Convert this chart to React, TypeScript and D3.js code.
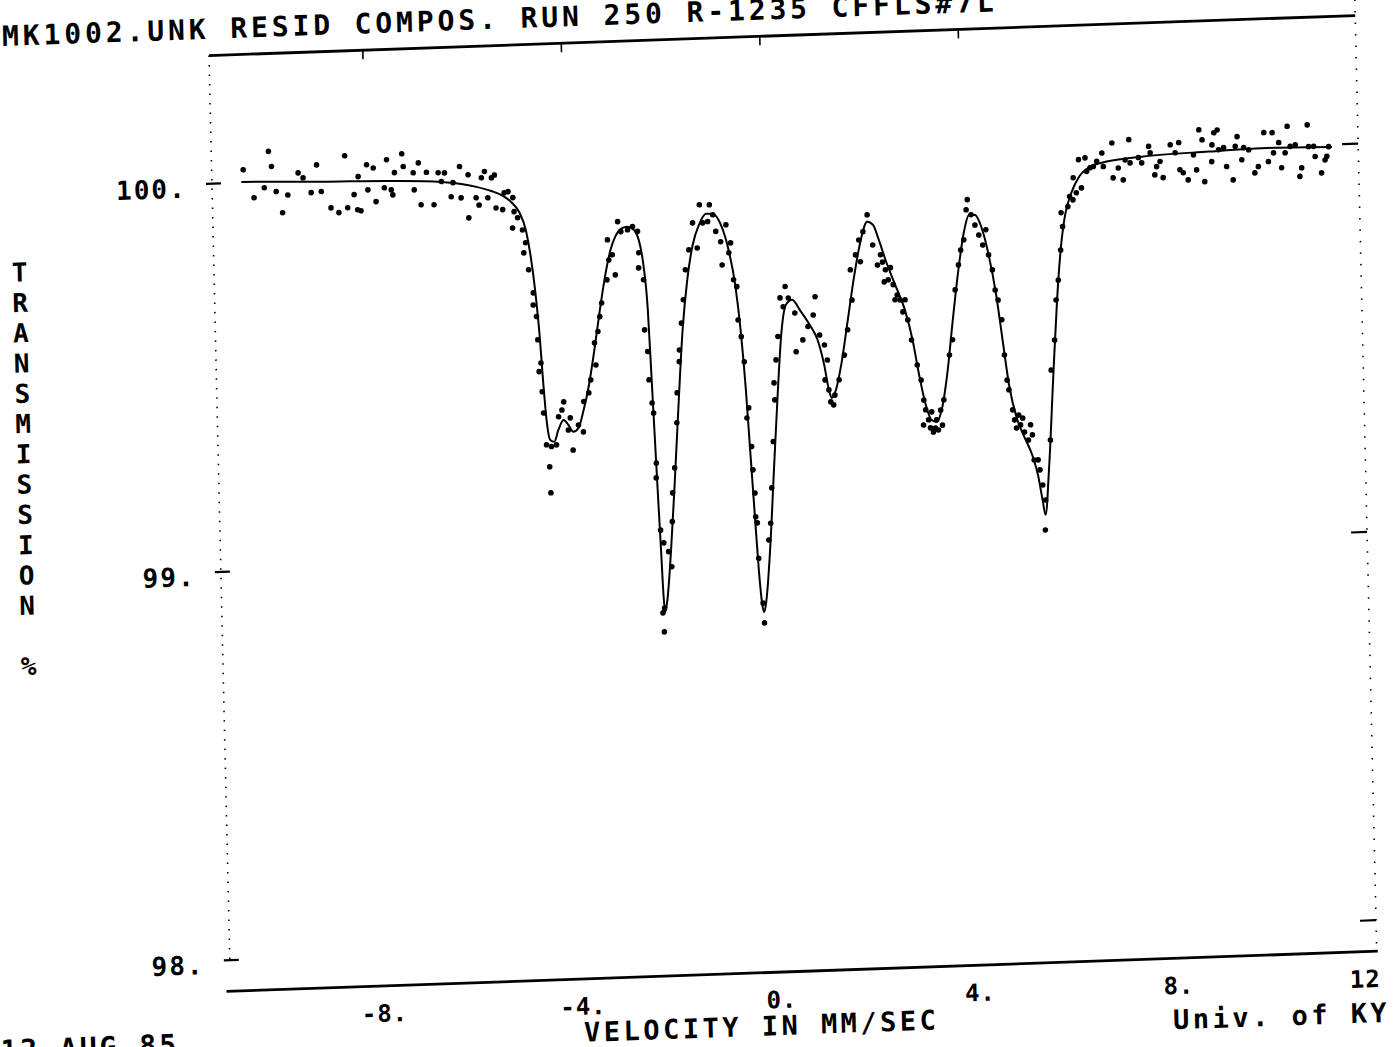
import React from "react";
import * as d3 from "d3";

// ---------- text content ----------
const title = "MK1002.UNK RESID COMPOS. RUN 250 R-1235  CFFLS#7L";
const xAxisTitle = "VELOCITY IN MM/SEC";
const yAxisTitle = "TRANSMISSION %";
const credit = "Univ. of KY";
const dateStamp = "12 AUG 85";

// ---------- axes ----------
const xTickValues = [-8, -4, 0, 4, 8, 12];
const xTickLabels = ["-8.", "-4.", "0.", "4.", "8.", "12"];
const topTickValues = [-8, -4, 0, 4];
const yTickValues = [100, 99, 98];
const yTickLabels = ["100.", "99.", "98."];

// ---------- data: [velocity mm/s, transmission %] ----------
const leftWing: [number, number][] = [
  [-10.465, 100.033], [-10.258, 99.96], [-10.048, 99.985], [-9.948, 100.078], [-9.893, 100.039],
  [-9.809, 99.974], [-9.69, 99.919], [-9.577, 99.964], [-9.36, 100.02], [-9.263, 100.007],
  [-9.106, 99.968], [-8.985, 100.039], [-8.902, 99.97], [-8.713, 99.927], [-8.556, 99.914],
  [-8.415, 100.06], [-8.377, 99.926], [-8.242, 99.959], [-8.177, 99.92], [-8.153, 100.005],
  [-8.111, 99.917], [-7.978, 100.035], [-7.962, 99.97], [-7.845, 100.026], [-7.803, 99.939],
  [-7.631, 99.974], [-7.573, 100.046], [-7.492, 99.968], [-7.462, 99.955], [-7.42, 100.012],
  [-7.265, 100.06], [-7.241, 100.027], [-7.043, 100.01], [-7.029, 99.966], [-6.935, 100.035],
  [-6.898, 99.927], [-6.775, 100.01], [-6.637, 99.926], [-6.54, 100.008], [-6.479, 99.985],
  [-6.413, 100.007], [-6.288, 99.945], [-6.246, 99.981], [-6.107, 100.022], [-6.089, 99.941],
  [-5.938, 100.0], [-5.942, 99.889], [-5.787, 99.94], [-5.73, 99.921], [-5.672, 99.991],
  [-5.607, 100.007], [-5.551, 99.939], [-5.47, 99.99], [-5.408, 99.997], [-5.39, 99.912],
  [-5.257, 99.907], [-5.219, 99.95], [-5.142, 99.953], [-5.047, 99.937], [-5.029, 99.901],
  [-5.067, 99.859], [-4.961, 99.885], [-4.868, 99.853], [-4.812, 99.82],
];

const lowVelocityLines: [number, number][] = [
  [-4.852, 99.794], [-4.763, 99.75], [-4.679, 99.69], [-4.687, 99.659], [-4.626, 99.629],
  [-4.61, 99.569], [-4.598, 99.487], [-4.558, 99.509], [-4.546, 99.435], [-4.528, 99.38],
  [-4.483, 99.298], [-4.429, 99.241], [-4.383, 99.293], [-4.417, 99.174], [-4.282, 99.297],
  [-4.228, 99.369], [-4.157, 99.386], [-4.117, 99.407], [-4.036, 99.334], [-3.992, 99.365],
  [-3.95, 99.282], [-3.831, 99.346], [-3.734, 99.328], [-3.714, 99.406], [-3.607, 99.428],
  [-3.563, 99.461], [-3.47, 99.556], [-3.452, 99.499], [-3.396, 99.585], [-3.351, 99.623],
  [-3.307, 99.658], [-3.19, 99.717], [-3.162, 99.82], [-3.144, 99.768], [-3.071, 99.781],
  [-3.019, 99.729], [-2.949, 99.866], [-2.888, 99.84], [-2.753, 99.844], [-2.651, 99.852],
  [-2.552, 99.839], [-2.536, 99.784], [-2.546, 99.745], [-2.453, 99.714], [-2.455, 99.585],
  [-2.403, 99.529], [-2.389, 99.456], [-2.338, 99.396], [-2.312, 99.37], [-2.28, 99.241],
  [-2.29, 99.203], [-2.226, 99.068], [-2.167, 99.035], [-2.073, 99.012], [-2.016, 98.973],
  [-2.181, 98.867], [-2.216, 98.855], [-2.197, 98.806], [-1.986, 99.089], [-1.966, 99.163],
  [-1.913, 99.227], [-1.849, 99.343], [-1.829, 99.42], [-1.772, 99.5], [-1.764, 99.53],
  [-1.71, 99.599], [-1.662, 99.659], [-1.607, 99.736], [-1.527, 99.787], [-1.44, 99.856],
  [-1.358, 99.791], [-1.295, 99.902], [-1.239, 99.855], [-1.136, 99.858], [-1.094, 99.901],
  [-1.031, 99.875], [-0.977, 99.832], [-0.882, 99.805], [-0.864, 99.745], [-0.769, 99.848],
  [-0.723, 99.776], [-0.683, 99.801], [-0.64, 99.706], [-0.578, 99.688], [-0.568, 99.602],
  [-0.512, 99.559], [-0.463, 99.494], [-0.435, 99.349], [-0.395, 99.375], [-0.354, 99.275],
  [-0.338, 99.215], [-0.308, 99.155], [-0.304, 99.094], [-0.274, 99.078], [-0.264, 98.987],
  [-0.195, 98.871], [-0.177, 98.82], [-0.05, 99.033], [-0.006, 99.076], [0.032, 99.167],
  [0.085, 99.286], [0.135, 99.393], [0.127, 99.437], [0.177, 99.496], [0.226, 99.556],
  [0.286, 99.655], [0.395, 99.684], [0.346, 99.632], [0.453, 99.654], [0.578, 99.615],
  [0.586, 99.515], [0.727, 99.545], [0.836, 99.579], [0.947, 99.608], [0.993, 99.655],
];

const highVelocityLines: [number, number][] = [
  [1.067, 99.556], [1.16, 99.53], [1.21, 99.491], [1.229, 99.414], [1.261, 99.383],
  [1.156, 99.44], [1.319, 99.375], [1.347, 99.4], [1.438, 99.439], [1.557, 99.502],
  [1.633, 99.567], [1.716, 99.721], [1.736, 99.643], [1.827, 99.759], [1.899, 99.797],
  [1.923, 99.741], [1.986, 99.818], [2.079, 99.861], [2.177, 99.783], [2.264, 99.731],
  [2.33, 99.757], [2.367, 99.738], [2.393, 99.687], [2.421, 99.718], [2.475, 99.692],
  [2.524, 99.723], [2.572, 99.679], [2.602, 99.64], [2.647, 99.652], [2.703, 99.639],
  [2.755, 99.608], [2.804, 99.639], [2.85, 99.587], [2.916, 99.535], [3.019, 99.47],
  [3.09, 99.431], [3.118, 99.315], [3.136, 99.379], [3.168, 99.354], [3.223, 99.328],
  [3.257, 99.307], [3.289, 99.348], [3.315, 99.296], [3.357, 99.306], [3.384, 99.327],
  [3.416, 99.301], [3.47, 99.352], [3.5, 99.313], [3.539, 99.378], [3.672, 99.493],
  [3.742, 99.532], [3.817, 99.66], [3.895, 99.724], [3.946, 99.762], [4.014, 99.788],
  [4.075, 99.865], [4.103, 99.891], [4.171, 99.852], [4.246, 99.825], [4.318, 99.799],
  [4.393, 99.773], [4.463, 99.812], [4.506, 99.747], [4.576, 99.708], [4.622, 99.656],
  [4.677, 99.63], [4.743, 99.579], [4.779, 99.488], [4.822, 99.423], [4.854, 99.398],
  [4.92, 99.346], [4.955, 99.32], [4.989, 99.299], [5.039, 99.332], [5.072, 99.307],
  [5.118, 99.324], [5.148, 99.288], [5.223, 99.267], [5.273, 99.306], [5.307, 99.28],
  [5.329, 99.215], [5.41, 99.215], [5.442, 99.189], [5.492, 99.15], [5.543, 99.111],
  [5.523, 99.034], [5.666, 99.265], [5.714, 99.445], [5.797, 99.522], [5.845, 99.625],
  [5.899, 99.676], [5.96, 99.753],
];

const rightWing: [number, number][] = [
  [5.986, 99.849], [6.01, 99.813], [6.125, 99.864], [6.165, 99.89], [6.232, 99.881],
  [6.246, 99.938], [6.302, 99.899], [6.361, 99.984], [6.407, 99.911], [6.493, 99.988],
  [6.52, 99.953], [6.588, 99.962], [6.657, 99.965], [6.727, 99.978], [6.834, 99.999],
  [6.858, 99.964], [7.041, 100.024], [7.051, 99.934], [7.158, 99.959], [7.253, 99.928],
  [7.299, 99.979], [7.382, 100.031], [7.398, 99.971], [7.569, 99.984], [7.633, 99.97],
  [7.779, 100.012], [7.807, 99.995], [7.891, 99.938], [7.931, 99.959], [8.002, 99.972],
  [8.058, 99.93], [8.215, 100.014], [8.31, 99.993], [8.387, 100.019], [8.399, 99.949],
  [8.465, 99.941], [8.562, 99.922], [8.679, 99.986], [8.735, 99.947], [8.798, 100.05],
  [8.858, 100.024], [8.894, 99.916], [9.043, 99.967], [9.055, 100.01], [9.098, 100.041],
  [9.166, 100.048], [9.186, 99.997], [9.289, 100.002], [9.341, 99.953], [9.468, 99.918],
  [9.523, 100.004], [9.565, 100.029], [9.65, 99.969], [9.692, 100.0], [9.793, 99.994],
  [9.907, 99.934], [9.98, 99.95], [10.105, 100.037], [10.185, 99.962], [10.272, 100.036],
  [10.292, 99.984], [10.401, 100.01], [10.449, 99.945], [10.526, 99.983], [10.578, 100.051],
  [10.63, 99.999], [10.733, 100.003], [10.812, 99.921], [10.852, 99.943], [10.983, 100.053],
  [11.001, 99.997], [11.102, 99.997], [11.128, 99.971], [11.251, 99.928], [11.327, 99.961],
  [11.364, 99.97], [11.404, 99.995],
];

const fitCurve: [number, number][] = [
  [-10.508, 100.002], [-8.896, 99.995], [-7.486, 99.991], [-6.479, 99.984], [-6.079, 99.977],
  [-5.778, 99.968], [-5.478, 99.956], [-5.281, 99.945], [-5.084, 99.926], [-4.93, 99.9],
  [-4.802, 99.853], [-4.719, 99.788], [-4.642, 99.698], [-4.572, 99.581], [-4.524, 99.465],
  [-4.471, 99.362], [-4.405, 99.31], [-4.326, 99.305], [-4.238, 99.335], [-4.129, 99.36],
  [-4.032, 99.347], [-3.936, 99.329], [-3.833, 99.338], [-3.72, 99.384], [-3.601, 99.448],
  [-3.476, 99.538], [-3.347, 99.64], [-3.221, 99.73], [-3.104, 99.794], [-2.993, 99.83],
  [-2.888, 99.847], [-2.765, 99.852], [-2.647, 99.846], [-2.532, 99.817], [-2.449, 99.752],
  [-2.381, 99.636], [-2.342, 99.481], [-2.304, 99.326], [-2.266, 99.172], [-2.226, 99.017],
  [-2.197, 98.901], [-2.169, 98.857], [-2.121, 98.888], [-2.024, 99.016], [-1.915, 99.196],
  [-1.799, 99.402], [-1.69, 99.581], [-1.573, 99.71], [-1.448, 99.799], [-1.313, 99.85],
  [-1.164, 99.878], [-1.023, 99.877], [-0.87, 99.848], [-0.727, 99.783], [-0.61, 99.693],
  [-0.522, 99.576], [-0.443, 99.421], [-0.385, 99.266], [-0.326, 99.111], [-0.266, 98.957],
  [-0.211, 98.866], [-0.175, 98.848], [-0.127, 98.878], [-0.03, 99.007], [0.085, 99.213],
  [0.201, 99.418], [0.304, 99.572], [0.403, 99.637], [0.528, 99.649], [0.681, 99.622],
  [0.872, 99.583], [1.023, 99.544], [1.146, 99.478], [1.229, 99.414], [1.283, 99.393],
  [1.37, 99.413], [1.488, 99.477], [1.641, 99.592], [1.795, 99.708], [1.94, 99.797],
  [2.075, 99.843], [2.191, 99.835], [2.302, 99.796], [2.429, 99.743], [2.612, 99.678],
  [2.796, 99.613], [2.937, 99.535], [3.053, 99.444], [3.172, 99.367], [3.283, 99.327],
  [3.382, 99.322], [3.49, 99.352], [3.617, 99.442], [3.756, 99.583], [3.891, 99.711],
  [4.02, 99.808], [4.133, 99.852], [4.254, 99.851], [4.367, 99.822], [4.508, 99.747],
  [4.641, 99.643], [4.749, 99.527], [4.858, 99.411], [4.997, 99.325], [5.144, 99.275],
  [5.293, 99.228], [5.4, 99.176], [5.482, 99.111], [5.533, 99.073], [5.623, 99.188],
  [5.748, 99.419], [5.865, 99.625], [5.96, 99.753], [6.066, 99.843], [6.201, 99.899],
  [6.375, 99.942], [6.582, 99.964], [6.828, 99.974], [7.637, 99.986], [8.989, 99.993],
  [10.322, 99.997], [11.47, 99.994],
];

// ---------- layout ----------
const W = 1400;
const H = 1047;
const FONT = "'DejaVu Sans Mono', 'Liberation Mono', monospace";
// the scanned plot is slightly skewed on the page
const SKEW = "matrix(0.99939,-0.0349,0.023,0.99939,-14.1,27.54)";

export default function App() {
  const x = d3.scaleLinear().domain([-11.1, 12]).range([222.4, 1369.3]);
  const y = d3.scaleLinear().domain([97.92, 100.33]).range([972.1, 35.8]);
  const allPoints = [...leftWing, ...lowVelocityLines, ...highVelocityLines, ...rightWing];
  const line = d3
    .line<[number, number]>()
    .x((d) => x(d[0]))
    .y((d) => y(d[1]))
    .curve(d3.curveMonotoneX);
  const [x0, x1] = x.range();
  const yTop = y(100.33);
  const yBot = y(97.92);
  const letters = yAxisTitle.split("");

  return (
    <div>
      <style>{`body{margin:0;background:#fff}`}</style>
      <svg width={W} height={H} style={{ display: "block", background: "#fff" }}>
        <g transform={SKEW} fill="#000" fontFamily={FONT} fontWeight="bold">
          {/* title */}
          <text x={16} y={19} fontSize={28} letterSpacing={3.9}>
            {title}
          </text>

          {/* frame */}
          <line x1={x0} x2={x1} y1={yTop} y2={yTop} stroke="#000" strokeWidth={2.8} />
          <line x1={x0 - 4} x2={x1 + 1} y1={yBot} y2={yBot} stroke="#000" strokeWidth={2.8} />
          <line x1={x0} x2={x0} y1={yTop} y2={y(98)} stroke="#000" strokeWidth={1.6} strokeDasharray="1.5 8" />
          <line x1={x1} x2={x1} y1={yTop - 16} y2={yBot} stroke="#000" strokeWidth={1.6} strokeDasharray="1.5 10" />

          {/* top ticks */}
          {topTickValues.map((v) => (
            <line key={"tt" + v} x1={x(v)} x2={x(v)} y1={yTop} y2={yTop + 9} stroke="#000" strokeWidth={1.6} />
          ))}

          {/* y ticks and labels */}
          {yTickValues.map((v, i) => (
            <g key={"yt" + v}>
              <line x1={x0 - 6} x2={x0 + 9} y1={y(v)} y2={y(v)} stroke="#000" strokeWidth={2.2} />
              <line x1={x1 - 16} x2={x1} y1={y(v)} y2={y(v)} stroke="#000" strokeWidth={2.2} />
              <text x={197} y={y(v) + 13} fontSize={26} letterSpacing={2} textAnchor="end">
                {yTickLabels[i]}
              </text>
            </g>
          ))}

          {/* x tick labels */}
          {xTickValues.map((v, i) => (
            <text
              key={"xt" + v}
              x={x(v) + (v === 12 ? -12 : 0)}
              y={1008}
              fontSize={24}
              letterSpacing={1}
              textAnchor="middle"
            >
              {xTickLabels[i]}
            </text>
          ))}

          {/* axis titles */}
          <text x={752.7} y={1035} fontSize={27} letterSpacing={3.5} textAnchor="middle">
            {xAxisTitle}
          </text>
          <text x={1272.7} y={1043} fontSize={27} letterSpacing={3.5} textAnchor="middle">
            {credit}
          </text>
          <text x={-9} y={1033} fontSize={28} letterSpacing={3}>
            {dateStamp}
          </text>
          {letters.map((ch, i) =>
            ch === " " ? null : (
              <text key={"yl" + i} x={28} y={245.7 + 30.3 * i + 9.5} fontSize={26} textAnchor="middle">
                {ch}
              </text>
            )
          )}

          {/* fitted curve */}
          <path d={line(fitCurve) || ""} fill="none" stroke="#000" strokeWidth={2} />

          {/* measured points */}
          {allPoints.map((d, i) => (
            <circle key={"p" + i} cx={x(d[0])} cy={y(d[1])} r={2.8} fill="#000" />
          ))}
        </g>
      </svg>
    </div>
  );
}
